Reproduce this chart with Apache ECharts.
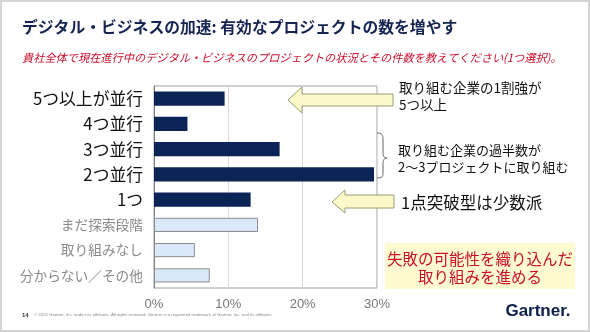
<!DOCTYPE html>
<html><head><meta charset="utf-8">
<script src="https://cdn.jsdelivr.net/npm/echarts@6/dist/echarts.min.js"></script>
<style>html,body{margin:0;padding:0;background:#fff}#c{width:590px;height:332px}</style>
</head><body><div id="c"></div>
<script>
const categories = ['5つ以上が並行','4つ並行','3つ並行','2つ並行','1つ','まだ探索段階','取り組みなし','分からない／その他'];
const values = [9.5, 4.5, 16.9, 29.6, 13.0, 14.0, 5.5, 7.5];
const isDark = [true, true, true, true, true, false, false, false];
const xTicks = [0, 10, 20, 30];

const FONT = '"Noto Sans CJK JP", "Noto Sans", sans-serif';
const chart = echarts.init(document.getElementById('c'), null, {renderer: 'canvas'});

const data = values.map((v, i) => ({
  value: v,
  itemStyle: isDark[i]
    ? {color: '#0b2455', borderColor: '#0b2455', borderWidth: 0}
    : {color: '#dbe8fa', borderColor: '#8c8c8c', borderWidth: 1}
}));

const braceStyle = {fill: 'none', stroke: '#666', lineWidth: 1};
const bz = (x1,y1,c1x,c1y,c2x,c2y,x2,y2) => ({type: 'bezierCurve', shape: {x1, y1, cpx1: c1x, cpy1: c1y, cpx2: c2x, cpy2: c2y, x2, y2}, style: braceStyle, z: 50});
const ln = (x1,y1,x2,y2) => ({type: 'line', shape: {x1, y1, x2, y2}, style: braceStyle, z: 50});

chart.setOption({
  animation: false,
  textStyle: {fontFamily: FONT},
  grid: {left: 154, right: 213, top: 86, bottom: 44, show: true, borderColor: '#a0a0a0', borderWidth: 1},
  xAxis: {
    type: 'value', min: xTicks[0], max: xTicks[xTicks.length - 1], interval: 10,
    axisLine: {show: false}, axisTick: {show: false},
    splitLine: {lineStyle: {color: '#d9d9d9'}},
    axisLabel: {formatter: v => v + '%', color: '#777', fontSize: 13, margin: 10, fontFamily: 'Arial, "Liberation Sans", sans-serif'}
  },
  yAxis: {
    type: 'category', data: categories, inverse: true,
    axisLine: {lineStyle: {color: '#808080'}}, axisTick: {show: false},
    axisLabel: {
      margin: 11,
      formatter: (v) => isDark[categories.indexOf(v)] ? '{d|' + v + '}' : '{l|' + v + '}',
      rich: {
        d: {fontSize: 16.8, color: '#111', fontFamily: FONT},
        l: {fontSize: 13.7, color: '#8a8a8a', fontFamily: FONT}
      }
    }
  },
  series: [{type: 'bar', data: data, barWidth: '56%'}],
  graphic: [
    {type: 'rect', shape: {x: 1, y: 1, width: 588, height: 330}, style: {fill: 'none', stroke: '#d4d4d4', lineWidth: 2}, z: 100},
    {type: 'text', x: 22, y: 27, style: {text: 'デジタル・ビジネスの加速: 有効なプロジェクトの数を増やす', font: 'bold 15.8px ' + FONT, fill: '#152450', verticalAlign: 'middle'}},
    {type: 'text', x: 22, y: 58, style: {text: '貴社全体で現在進行中のデジタル・ビジネスのプロジェクトの状況とその件数を教えてください(1つ選択)。', font: 'italic 11.2px ' + FONT, fill: '#c8102e', verticalAlign: 'middle'}},
    // arrow 1
    {type: 'polygon', shape: {points: [[288,100],[302,87],[302,94],[393,94],[393,106],[302,106],[302,113]]}, style: {fill: '#fcf9c9', stroke: '#9a9a7a', lineWidth: 1}, z: 50},
    {type: 'text', x: 399, y: 96, style: {text: '取り組む企業の1割強が\n5つ以上', font: '13.5px ' + FONT, fill: '#111', lineHeight: 17, verticalAlign: 'middle'}},
    // brace
    bz(377,133, 382,133, 383,135, 383,139),
    ln(383,139, 383,152),
    bz(383,152, 383,156, 384,158, 387,158),
    bz(387,158, 384,158, 383,160, 383,164),
    ln(383,164, 383,173),
    bz(383,173, 383,177, 382,178, 377,178),
    {type: 'text', x: 398, y: 159, style: {text: '取り組む企業の過半数が\n2～3プロジェクトに取り組む', font: '13px ' + FONT, fill: '#111', lineHeight: 17, verticalAlign: 'middle'}},
    // arrow 2
    {type: 'polygon', shape: {points: [[332,202],[345,190],[345,195],[394,195],[394,208],[345,208],[345,213]]}, style: {fill: '#fcf9c9', stroke: '#9a9a7a', lineWidth: 1}, z: 50},
    {type: 'text', x: 401, y: 203, style: {text: '1点突破型は少数派', font: '16.5px ' + FONT, fill: '#111', verticalAlign: 'middle'}},
    // yellow box
    {type: 'rect', shape: {x: 385, y: 243, width: 190, height: 46}, style: {fill: '#fefbd0'}},
    {type: 'text', x: 480, y: 268, style: {text: '失敗の可能性を織り込んだ\n取り組みを進める', font: '15.5px ' + FONT, fill: '#c8102e', align: 'center', verticalAlign: 'middle', lineHeight: 18}},
    // footer
    {type: 'text', x: 22, y: 315, style: {text: '14', font: 'bold 6px Arial, sans-serif', fill: '#333', verticalAlign: 'middle'}},
    {type: 'text', x: 34, y: 315, style: {text: '© 2022 Gartner, Inc. and/or its affiliates. All rights reserved. Gartner is a registered trademark of Gartner, Inc. and its affiliates.', font: '4.3px Arial, sans-serif', fill: '#888', verticalAlign: 'middle'}},
    {type: 'text', x: 538, y: 311, style: {text: 'Gartner.', font: 'bold 17px Arial, "Liberation Sans", sans-serif', fill: '#0c1f4a', align: 'center', verticalAlign: 'middle'}}
  ]
});
</script></body></html>
